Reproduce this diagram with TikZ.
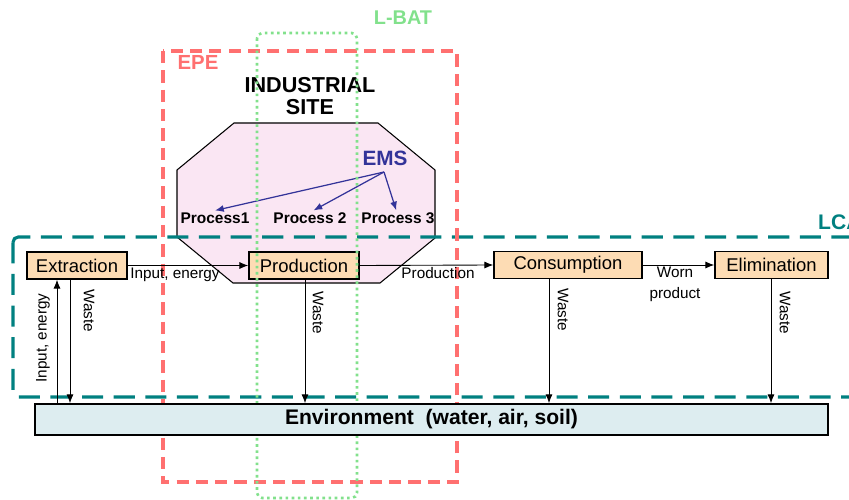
\documentclass[tikz,border=0pt]{standalone}
\usepackage{fontspec}
\setmainfont{Liberation Sans}
\usetikzlibrary{arrows.meta}
\definecolor{tealc}{RGB}{0,128,128}
\definecolor{redc}{RGB}{255,112,112}
\definecolor{greenc}{RGB}{130,225,140}
\definecolor{pinkc}{RGB}{250,230,243}
\definecolor{orangec}{RGB}{253,220,180}
\definecolor{envc}{RGB}{221,237,240}
\definecolor{bluec}{RGB}{51,51,153}
\tikzset{
  stagebox/.style={draw=black, line width=0.9pt, fill=orangec, minimum height=0.54cm, inner sep=0pt, font=\fontsize{10.5}{12}\selectfont},
  arr/.style={-{Latex[length=5pt,width=4pt]}, line width=0.5pt},
  emsarr/.style={-{Latex[length=5pt,width=4pt]}, line width=0.7pt, draw=bluec},
  small/.style={font=\fontsize{8.7}{10}\selectfont, inner sep=1pt},
  proc/.style={font=\bfseries\fontsize{8.8}{10}\selectfont, inner sep=1pt},
}
\begin{document}
\begin{tikzpicture}[x=0.02cm,y=-0.02cm]
\useasboundingbox (0,0) rectangle (849,500);
\clip (0,0) rectangle (849,500);
% octagon (industrial site)
\draw[fill=pinkc, line width=0.6pt] (234,123) -- (378,123) -- (435,170) -- (435,238) -- (380,283) -- (233,283) -- (177,237) -- (177,170) -- cycle;
% LCA frame
\draw[tealc, line width=1.8pt, dash pattern=on 12pt off 6pt, rounded corners=3pt] (13,237) rectangle (880,397);
\node[tealc, font=\bfseries\fontsize{12}{14}\selectfont, anchor=west] (lca) at (812,222) {LCA};
% EPE frame
\draw[redc, line width=1.8pt, dash pattern=on 7pt off 4pt] (163,51) rectangle (457,482);
\node[redc, font=\bfseries\fontsize{11.6}{14}\selectfont] (epe) at (198,62) {EPE};
% Industrial site text
\node[font=\bfseries\fontsize{12.3}{14}\selectfont, align=center] (site) at (310,96) {INDUSTRIAL\\[-1pt]SITE};
\node[bluec, font=\bfseries\fontsize{11.8}{14}\selectfont] (ems) at (385,158) {EMS};
\node[proc] (p1) at (215,218) {Process1};
\node[proc] (p2) at (310,218) {Process 2};
\node[proc] (p3) at (398,218) {Process 3};
\coordinate (emsfoot) at (384,172);
\draw[emsarr] (emsfoot) -- (p1.north);
\draw[emsarr] (emsfoot) -- ([xshift=2pt]p2.north);
\draw[emsarr] (emsfoot) -- ([xshift=-1pt]p3.north);
% stage boxes
\node[stagebox, minimum width=2cm] (ext) at (77,265.5) {Extraction};
\node[stagebox, minimum width=2.2cm] (prod) at (304,265.5) {Production};
\node[stagebox, minimum width=2.96cm] (cons) at (568,265) {Consumption};
\node[stagebox, minimum width=2.26cm] (elim) at (771.5,265) {Elimination};
% L-BAT frame
\draw[greenc, line width=1.5pt, dash pattern=on 1.5pt off 2pt, rounded corners=3pt] (257,33) rectangle (357,498);
\node[greenc, font=\bfseries\fontsize{11.3}{14}\selectfont] (lbat) at (403,18) {L-BAT};
% environment
\node[draw=black, line width=1pt, fill=envc, minimum width=15.86cm, minimum height=0.62cm, inner sep=0pt, font=\bfseries\fontsize{12}{14}\selectfont] (env) at (431.5,419.5) {Environment\ \ (water, air, soil)};
% horizontal flows
\draw[arr] (ext.east) -- (prod.west);
\node[small, anchor=north] (l1) at (175,266) {Input, energy};
\draw[arr] (prod.east) -- (cons.west);
\node[small, anchor=north] (l2) at (438,265) {Production};
\draw[arr] (cons.east) -- (elim.west);
\node[small] (l3) at (675,272) {Worn};
\node[small] (l4) at (675,295) {product};
% vertical flows
\coordinate (x1) at (70,0);
\coordinate (x0) at (57,0);
\coordinate (x2) at (305,0);
\coordinate (x3) at (549,0);
\coordinate (x4) at (771,0);
\draw[arr] (ext.south -| x1) -- (env.north -| x1);
\draw[arr] (env.north -| x0) -- (ext.south -| x0);
\draw[arr] (prod.south -| x2) -- (env.north -| x2);
\draw[arr] (cons.south -| x3) -- (env.north -| x3);
\draw[arr] (elim.south -| x4) -- (env.north -| x4);
\node[small, rotate=-90] (w1) at (89,311) {Waste};
\node[small, rotate=90] (ie) at (43,338) {Input, energy};
\node[small, rotate=-90] (w2) at (318,313) {Waste};
\node[small, rotate=-90] (w3) at (563,310) {Waste};
\node[small, rotate=-90] (w4) at (785,313) {Waste};
\end{tikzpicture}
\end{document}
